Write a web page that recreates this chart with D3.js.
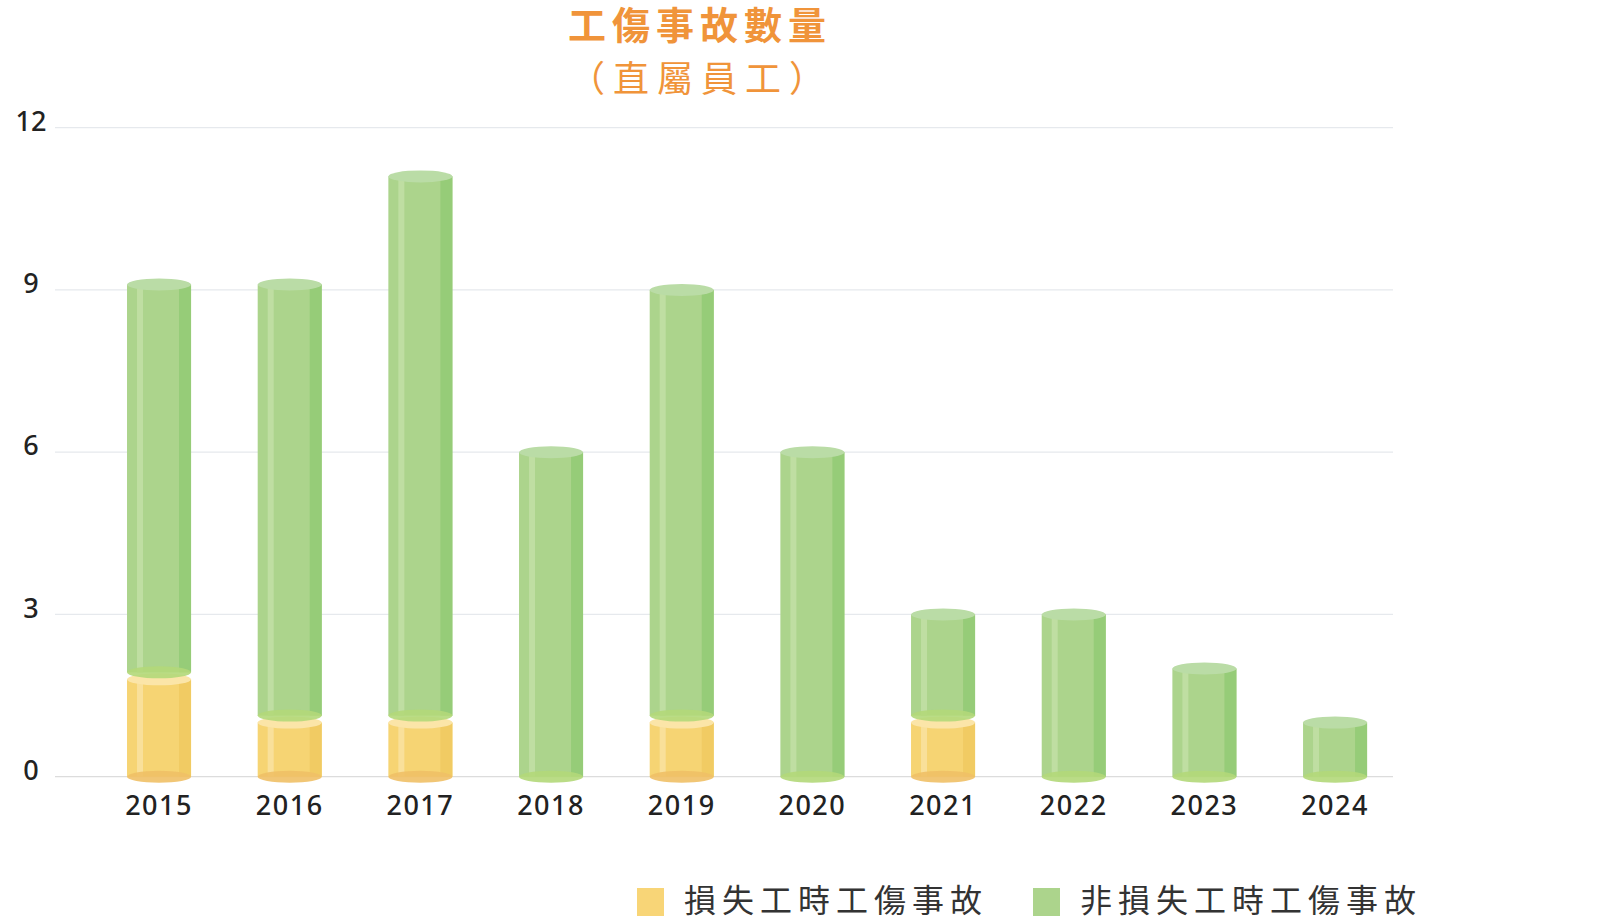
<!doctype html>
<html lang="zh-Hant">
<head>
  <meta charset="utf-8">
  <title>工傷事故數量</title>
  <script src="https://cdnjs.cloudflare.com/ajax/libs/d3/7.8.5/d3.min.js"></script>
  <style>
    body { margin: 0; background: #fff; }
  </style>
</head>
<body>
  <svg width="1607" height="923" id="svg"></svg>
<script>

  var years = ['2015','2016','2017','2018','2019','2020','2021','2022','2023','2024'];
  var lostTime = [1.8, 1, 1, 0, 1, 0, 1, 0, 0, 0];
  var nonLostTime = [7.3, 8.1, 10.1, 6, 8, 6, 2, 3, 2, 1];
  var yTicks = [0, 3, 6, 9, 12];
  var seriesNames = ['損失工時工傷事故', '非損失工時工傷事故'];

  var numFont = '"Noto Sans", "Open Sans", sans-serif';
  var cjkFont = '"Noto Sans CJK TC", "Noto Sans CJK SC", sans-serif';

  var palettes = [
    { body: '#f6d473', light: '#f9e09a', dark: '#f1cb63', top: '#fbe5a8', bottom: '#f0c066', key: '#f8d577' },
    { body: '#acd48c', light: '#bfdea2', dark: '#96cc78', top: '#badca6', bottom: '#b3d879', key: '#acd48c' }
  ];

  var svg = d3.select('#svg');

  var x = d3.scaleBand()
    .domain(years)
    .range([93.7, 1400.4])
    .paddingInner(0.51)
    .paddingOuter(0.255);

  var y = d3.scaleLinear()
    .domain([0, 12])
    .range([776.7, 127.7]);

  // gridlines
  svg.append('g')
    .selectAll('line')
    .data(yTicks)
    .enter()
    .append('line')
    .attr('x1', 55)
    .attr('x2', 1393)
    .attr('y1', function(d) { return y(d); })
    .attr('y2', function(d) { return y(d); })
    .attr('stroke', function(d) { return d === 0 ? '#dcdcdc' : '#e6e9ed'; })
    .attr('stroke-width', 1.3);

  svg.append('g')
    .selectAll('text')
    .data(yTicks)
    .enter()
    .append('text')
    .text(function(d) { return d; })
    .attr('x', 31)
    .attr('y', function(d) { return y(d) - 4; })
    .attr('text-anchor', 'middle')
    .attr('dominant-baseline', 'middle')
    .style('font-family', numFont)
    .style('font-size', '27px')
    .style('font-weight', 500)
    .attr('fill', '#222');

  svg.append('g')
    .selectAll('text')
    .data(years)
    .enter()
    .append('text')
    .text(function(d) { return d; })
    .attr('x', function(d) { return x(d) + x.bandwidth() / 2; })
    .attr('y', 815)
    .attr('text-anchor', 'middle')
    .style('font-family', numFont)
    .style('font-size', '27px')
    .style('font-weight', 500)
    .style('letter-spacing', '1.5px')
    .attr('fill', '#222');

  // stacked segments
  var segments = [];
  years.forEach(function(yr, i) {
    var a = lostTime[i], b = nonLostTime[i];
    if (a > 0) segments.push({ year: yr, s: 0, v0: 0, v1: a, gap: 0 });
    if (b > 0) segments.push({ year: yr, s: 1, v0: a, v1: a + b, gap: a > 0 ? 7 : 0 });
  });

  var bw = x.bandwidth();
  var ry = 6;

  var cyl = svg.append('g')
    .selectAll('g')
    .data(segments)
    .enter()
    .append('g');

  cyl.append('rect')
    .attr('x', function(d) { return x(d.year); })
    .attr('y', function(d) { return y(d.v1); })
    .attr('width', bw)
    .attr('height', function(d) { return y(d.v0) - d.gap - y(d.v1); })
    .attr('fill', function(d) { return palettes[d.s].body; });

  cyl.append('rect')
    .attr('x', function(d) { return x(d.year) + 10; })
    .attr('y', function(d) { return y(d.v1); })
    .attr('width', 6)
    .attr('height', function(d) { return y(d.v0) - d.gap - y(d.v1); })
    .attr('fill', function(d) { return palettes[d.s].light; });

  cyl.append('rect')
    .attr('x', function(d) { return x(d.year) + bw - 12; })
    .attr('y', function(d) { return y(d.v1); })
    .attr('width', 12)
    .attr('height', function(d) { return y(d.v0) - d.gap - y(d.v1); })
    .attr('fill', function(d) { return palettes[d.s].dark; });

  cyl.append('ellipse')
    .attr('cx', function(d) { return x(d.year) + bw / 2; })
    .attr('cy', function(d) { return y(d.v0) - d.gap; })
    .attr('rx', bw / 2)
    .attr('ry', ry)
    .attr('fill', function(d) { return palettes[d.s].bottom; })
    .attr('fill-opacity', 0.9);

  cyl.append('ellipse')
    .attr('cx', function(d) { return x(d.year) + bw / 2; })
    .attr('cy', function(d) { return y(d.v1); })
    .attr('rx', bw / 2)
    .attr('ry', ry)
    .attr('fill', function(d) { return palettes[d.s].top; });

  // title
  svg.append('text')
    .text('工傷事故數量')
    .attr('x', 700)
    .attr('y', 39)
    .attr('text-anchor', 'middle')
    .style('font-family', cjkFont)
    .style('font-size', '38px')
    .style('font-weight', 700)
    .style('letter-spacing', '6px')
    .attr('fill', '#f0943a');

  svg.append('text')
    .text('（直屬員工）')
    .attr('x', 701)
    .attr('y', 92)
    .attr('text-anchor', 'middle')
    .style('font-family', cjkFont)
    .style('font-size', '36px')
    .style('font-weight', 400)
    .style('letter-spacing', '8px')
    .attr('fill', '#f0943a');

  // legend
  var legendX = [637, 1033];
  var legend = svg.append('g')
    .selectAll('g')
    .data(seriesNames)
    .enter()
    .append('g')
    .attr('transform', function(d, i) { return 'translate(' + legendX[i] + ',902)'; });

  legend.append('rect')
    .attr('x', 0)
    .attr('y', -14)
    .attr('width', 27)
    .attr('height', 28)
    .attr('fill', function(d, i) { return palettes[i].key; });

  legend.append('text')
    .text(function(d) { return d; })
    .attr('x', 47)
    .attr('y', 1)
    .attr('dominant-baseline', 'middle')
    .style('font-family', cjkFont)
    .style('font-size', '32px')
    .style('font-weight', 400)
    .style('letter-spacing', '6px')
    .attr('fill', '#333');

</script>
</body>
</html>
